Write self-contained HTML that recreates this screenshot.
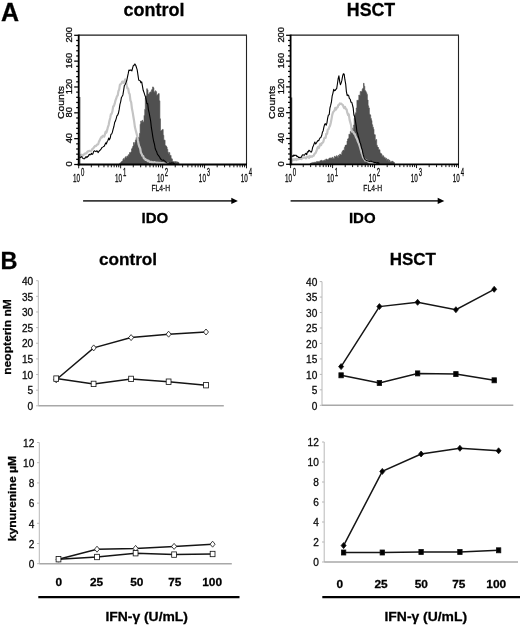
<!DOCTYPE html>
<html><head><meta charset="utf-8"><title>Figure</title>
<style>html,body{margin:0;padding:0;background:#fff;width:520px;height:627px;overflow:hidden}svg{display:block;will-change:transform;filter:blur(0.3px)}text{font-family:"Liberation Sans",sans-serif;stroke:#000;stroke-width:0.28px}</style>
</head><body>
<svg width="520" height="627" viewBox="0 0 520 627">
<rect width="520" height="627" fill="#fff"/>
<text x="1" y="21.3" font-family="'Liberation Sans', sans-serif" font-weight="bold" font-size="25">A</text>
<text x="123.6" y="15.6" font-family="'Liberation Sans', sans-serif" font-weight="bold" font-size="18">control</text>
<text x="346.8" y="15.6" font-family="'Liberation Sans', sans-serif" font-weight="bold" font-size="17.8">HSCT</text>
<polygon points="119.6,164.5 119.6,163.3 120.3,163.3 120.3,162.9 120.9,162.9 120.9,162.0 121.6,162.0 121.6,161.6 122.2,161.6 122.2,161.0 122.9,161.0 122.9,159.3 123.6,159.3 123.6,158.4 124.2,158.4 124.2,159.4 124.9,159.4 124.9,157.5 125.5,157.5 125.5,156.7 126.2,156.7 126.2,158.0 126.9,158.0 126.9,156.0 127.5,156.0 127.5,156.4 128.2,156.4 128.2,154.8 128.8,154.8 128.8,154.6 129.5,154.6 129.5,152.6 130.2,152.6 130.2,153.0 130.8,153.0 130.8,151.9 131.5,151.9 131.5,148.9 132.1,148.9 132.1,147.8 132.8,147.8 132.8,146.1 133.5,146.1 133.5,142.6 134.1,142.6 134.1,144.2 134.8,144.2 134.8,142.3 135.4,142.3 135.4,139.9 136.1,139.9 136.1,137.5 136.8,137.5 136.8,140.0 137.4,140.0 137.4,137.3 138.1,137.3 138.1,137.5 138.7,137.5 138.7,137.4 139.4,137.4 139.4,133.5 140.1,133.5 140.1,124.3 140.7,124.3 140.7,121.1 141.4,121.1 141.4,122.2 142.0,122.2 142.0,120.3 142.7,120.3 142.7,122.3 143.4,122.3 143.4,121.8 144.0,121.8 144.0,115.4 144.7,115.4 144.7,109.4 145.3,109.4 145.3,97.9 146.0,97.9 146.0,96.1 146.7,96.1 146.7,88.7 147.3,88.7 147.3,89.9 148.0,89.9 148.0,94.1 148.6,94.1 148.6,94.2 149.3,94.2 149.3,92.8 150.0,92.8 150.0,91.9 150.6,91.9 150.6,92.3 151.3,92.3 151.3,90.3 151.9,90.3 151.9,89.2 152.6,89.2 152.6,86.9 153.3,86.9 153.3,87.8 153.9,87.8 153.9,91.7 154.6,91.7 154.6,92.5 155.2,92.5 155.2,90.8 155.9,90.8 155.9,91.7 156.6,91.7 156.6,95.2 157.2,95.2 157.2,95.0 157.9,95.0 157.9,94.1 158.5,94.1 158.5,93.6 159.2,93.6 159.2,100.8 159.9,100.8 159.9,118.8 160.5,118.8 160.5,130.7 161.2,130.7 161.2,130.6 161.8,130.6 161.8,129.9 162.5,129.9 162.5,129.4 163.2,129.4 163.2,135.3 163.8,135.3 163.8,140.0 164.5,140.0 164.5,140.2 165.1,140.2 165.1,145.5 165.8,145.5 165.8,146.0 166.5,146.0 166.5,147.0 167.1,147.0 167.1,149.3 167.8,149.3 167.8,152.2 168.4,152.2 168.4,153.8 169.1,153.8 169.1,152.6 169.8,152.6 169.8,155.5 170.4,155.5 170.4,155.4 171.1,155.4 171.1,158.4 171.7,158.4 171.7,158.9 172.4,158.9 172.4,161.3 173.1,161.3 173.1,162.1 173.7,162.1 173.7,161.5 174.4,161.5 174.4,162.5 175.0,162.5 175.0,161.7 175.7,161.7 175.7,161.6 176.4,161.6 176.4,162.5 177.0,162.5 177.0,161.9 177.7,161.9 177.7,162.2 178.3,162.2 178.3,162.6 179.0,162.6 179.0,163.0 179.0,164.5" fill="#505050" stroke="#505050" stroke-width="0.6"/>
<polyline points="79.4,157.3 80.2,157.0 80.9,155.0 81.7,154.7 82.4,155.8 83.2,155.2 83.9,154.7 84.7,153.5 85.4,153.7 86.2,153.3 86.9,152.7 87.7,151.3 88.4,151.4 89.2,150.8 89.9,151.0 90.7,151.1 91.4,150.6 92.2,149.2 92.9,148.6 93.7,147.8 94.4,146.7 95.2,145.9 95.9,146.2 96.7,145.1 97.4,144.3 98.2,144.3 98.9,141.7 99.7,140.4 100.4,138.7 101.2,137.2 101.9,137.4 102.7,135.8 103.4,136.1 104.2,136.7 104.9,134.4 105.7,131.6 106.4,132.6 107.2,129.9 107.9,127.1 108.7,124.8 109.4,121.0 110.2,118.0 110.9,114.2 111.7,113.8 112.4,111.4 113.2,106.5 113.9,106.0 114.7,103.7 115.4,100.7 116.2,98.7 116.9,96.3 117.7,95.5 118.4,91.3 119.2,89.4 119.9,84.9 120.7,84.1 121.4,83.6 122.2,81.6 122.9,81.7 123.7,82.9 124.4,82.3 125.2,79.4 125.9,80.9 126.7,85.3 127.4,88.4 128.2,88.6 128.9,92.9 129.7,94.3 130.4,100.3 131.2,102.3 131.9,108.3 132.7,112.4 133.4,116.7 134.2,121.7 134.9,127.1 135.7,130.3 136.4,132.9 137.2,136.1 137.9,140.4 138.7,144.7 139.4,146.8 140.2,148.5 140.9,152.7 141.7,154.0 142.4,155.8 143.2,156.0 143.9,158.5 144.7,158.6 145.4,159.8 146.2,159.7 146.9,160.0 147.7,161.2 148.4,160.6 149.2,161.5 149.9,162.2 150.7,161.8 151.4,161.9 152.2,162.6 152.9,162.3 153.7,162.7 154.4,162.1 155.2,162.5 155.9,162.5 156.7,163.0 157.4,162.6 158.2,163.4 158.9,162.7 159.7,163.3 160.4,162.8 161.2,163.0 161.9,163.5 162.7,163.1 163.4,163.2 164.2,163.5 164.9,163.4 165.7,163.2 166.4,163.9 167.2,163.4 167.9,163.4 168.7,163.6 169.4,163.8" fill="none" stroke="#c4c4c4" stroke-width="2.2" stroke-linejoin="round"/>
<polyline points="79.4,156.9 80.2,157.7 80.9,157.1 81.7,156.6 82.4,157.8 83.2,158.5 83.9,158.8 84.7,158.7 85.4,157.2 86.2,156.7 86.9,157.6 87.7,156.3 88.4,156.3 89.2,154.3 89.9,154.7 90.7,154.8 91.4,153.3 92.2,154.4 92.9,153.9 93.7,151.4 94.4,150.8 95.2,151.3 95.9,151.6 96.7,150.8 97.4,151.3 98.2,152.6 98.9,151.3 99.7,150.5 100.4,149.8 101.2,148.8 101.9,147.6 102.7,147.1 103.4,146.6 104.2,146.2 104.9,144.7 105.7,142.9 106.4,143.8 107.2,141.5 107.9,140.5 108.7,138.1 109.4,139.8 110.2,138.1 110.9,134.5 111.7,133.9 112.4,132.2 113.2,128.8 113.9,126.5 114.7,122.3 115.4,121.1 116.2,118.6 116.9,115.8 117.7,115.0 118.4,113.3 119.2,109.4 119.9,104.7 120.7,101.6 121.4,97.6 122.2,96.2 122.9,94.9 123.7,89.9 124.4,85.4 125.2,84.5 125.9,82.9 126.7,80.8 127.4,77.3 128.2,73.7 128.9,70.1 129.7,70.4 130.4,70.0 131.2,70.1 131.9,70.9 132.7,67.6 133.4,65.4 134.2,65.3 134.9,63.9 135.7,65.3 136.4,67.3 137.2,69.8 137.9,74.7 138.7,80.0 139.4,80.5 140.2,80.7 140.9,82.7 141.7,81.8 142.4,85.8 143.2,90.3 143.9,92.2 144.7,94.7 145.4,96.6 146.2,99.9 146.9,103.7 147.7,103.6 148.4,109.6 149.2,113.2 149.9,116.8 150.7,121.4 151.4,127.7 152.2,132.7 152.9,137.3 153.7,141.5 154.4,143.9 155.2,148.5 155.9,150.2 156.7,151.8 157.4,154.1 158.2,155.2 158.9,156.1 159.7,157.2 160.4,158.7 161.2,159.5 161.9,159.9 162.7,160.2 163.4,160.0 164.2,160.7 164.9,161.1 165.7,162.0 166.4,162.7 167.2,163.0 167.9,163.2 168.7,163.2 169.4,162.9 170.2,163.4 170.9,163.3 171.7,162.9 172.4,163.0 173.2,163.0 173.9,163.6 174.7,163.3" fill="none" stroke="#000" stroke-width="1.1" stroke-linejoin="round"/>
<line x1="79.8" y1="97" x2="79.8" y2="164.5" stroke="#111" stroke-width="0.9"/>
<line x1="78.7" y1="35.15" x2="247.0" y2="35.15" stroke="#1a1a1a" stroke-width="1.3"/>
<line x1="246.5" y1="35.3" x2="246.5" y2="164.5" stroke="#222" stroke-width="1.1"/>
<line x1="78.7" y1="34.599999999999994" x2="78.7" y2="165.5" stroke="#000" stroke-width="1.8"/>
<line x1="77.7" y1="164.5" x2="247.0" y2="164.5" stroke="#000" stroke-width="1.8"/>
<line x1="74.2" y1="164.50" x2="78.7" y2="164.50" stroke="#000" stroke-width="1.25"/>
<line x1="76.2" y1="159.33" x2="78.7" y2="159.33" stroke="#000" stroke-width="1.25"/>
<line x1="76.2" y1="154.16" x2="78.7" y2="154.16" stroke="#000" stroke-width="1.25"/>
<line x1="76.2" y1="149.00" x2="78.7" y2="149.00" stroke="#000" stroke-width="1.25"/>
<line x1="76.2" y1="143.83" x2="78.7" y2="143.83" stroke="#000" stroke-width="1.25"/>
<line x1="74.2" y1="138.66" x2="78.7" y2="138.66" stroke="#000" stroke-width="1.25"/>
<line x1="76.2" y1="133.49" x2="78.7" y2="133.49" stroke="#000" stroke-width="1.25"/>
<line x1="76.2" y1="128.32" x2="78.7" y2="128.32" stroke="#000" stroke-width="1.25"/>
<line x1="76.2" y1="123.16" x2="78.7" y2="123.16" stroke="#000" stroke-width="1.25"/>
<line x1="76.2" y1="117.99" x2="78.7" y2="117.99" stroke="#000" stroke-width="1.25"/>
<line x1="74.2" y1="112.82" x2="78.7" y2="112.82" stroke="#000" stroke-width="1.25"/>
<line x1="76.2" y1="107.65" x2="78.7" y2="107.65" stroke="#000" stroke-width="1.25"/>
<line x1="76.2" y1="102.48" x2="78.7" y2="102.48" stroke="#000" stroke-width="1.25"/>
<line x1="76.2" y1="97.32" x2="78.7" y2="97.32" stroke="#000" stroke-width="1.25"/>
<line x1="76.2" y1="92.15" x2="78.7" y2="92.15" stroke="#000" stroke-width="1.25"/>
<line x1="74.2" y1="86.98" x2="78.7" y2="86.98" stroke="#000" stroke-width="1.25"/>
<line x1="76.2" y1="81.81" x2="78.7" y2="81.81" stroke="#000" stroke-width="1.25"/>
<line x1="76.2" y1="76.64" x2="78.7" y2="76.64" stroke="#000" stroke-width="1.25"/>
<line x1="76.2" y1="71.48" x2="78.7" y2="71.48" stroke="#000" stroke-width="1.25"/>
<line x1="76.2" y1="66.31" x2="78.7" y2="66.31" stroke="#000" stroke-width="1.25"/>
<line x1="74.2" y1="61.14" x2="78.7" y2="61.14" stroke="#000" stroke-width="1.25"/>
<line x1="76.2" y1="55.97" x2="78.7" y2="55.97" stroke="#000" stroke-width="1.25"/>
<line x1="76.2" y1="50.80" x2="78.7" y2="50.80" stroke="#000" stroke-width="1.25"/>
<line x1="76.2" y1="45.64" x2="78.7" y2="45.64" stroke="#000" stroke-width="1.25"/>
<line x1="76.2" y1="40.47" x2="78.7" y2="40.47" stroke="#000" stroke-width="1.25"/>
<line x1="74.2" y1="35.30" x2="78.7" y2="35.30" stroke="#000" stroke-width="1.25"/>
<line x1="78.70" y1="164.5" x2="78.70" y2="168.3" stroke="#000" stroke-width="0.9"/>
<line x1="91.33" y1="164.5" x2="91.33" y2="167.3" stroke="#000" stroke-width="0.9"/>
<line x1="98.72" y1="164.5" x2="98.72" y2="167.3" stroke="#000" stroke-width="0.9"/>
<line x1="103.96" y1="164.5" x2="103.96" y2="167.3" stroke="#000" stroke-width="0.9"/>
<line x1="108.02" y1="164.5" x2="108.02" y2="167.3" stroke="#000" stroke-width="0.9"/>
<line x1="111.34" y1="164.5" x2="111.34" y2="167.3" stroke="#000" stroke-width="0.9"/>
<line x1="114.15" y1="164.5" x2="114.15" y2="167.3" stroke="#000" stroke-width="0.9"/>
<line x1="116.58" y1="164.5" x2="116.58" y2="167.3" stroke="#000" stroke-width="0.9"/>
<line x1="118.73" y1="164.5" x2="118.73" y2="167.3" stroke="#000" stroke-width="0.9"/>
<line x1="120.65" y1="164.5" x2="120.65" y2="168.3" stroke="#000" stroke-width="0.9"/>
<line x1="133.28" y1="164.5" x2="133.28" y2="167.3" stroke="#000" stroke-width="0.9"/>
<line x1="140.67" y1="164.5" x2="140.67" y2="167.3" stroke="#000" stroke-width="0.9"/>
<line x1="145.91" y1="164.5" x2="145.91" y2="167.3" stroke="#000" stroke-width="0.9"/>
<line x1="149.97" y1="164.5" x2="149.97" y2="167.3" stroke="#000" stroke-width="0.9"/>
<line x1="153.29" y1="164.5" x2="153.29" y2="167.3" stroke="#000" stroke-width="0.9"/>
<line x1="156.10" y1="164.5" x2="156.10" y2="167.3" stroke="#000" stroke-width="0.9"/>
<line x1="158.53" y1="164.5" x2="158.53" y2="167.3" stroke="#000" stroke-width="0.9"/>
<line x1="160.68" y1="164.5" x2="160.68" y2="167.3" stroke="#000" stroke-width="0.9"/>
<line x1="162.60" y1="164.5" x2="162.60" y2="168.3" stroke="#000" stroke-width="0.9"/>
<line x1="175.23" y1="164.5" x2="175.23" y2="167.3" stroke="#000" stroke-width="0.9"/>
<line x1="182.62" y1="164.5" x2="182.62" y2="167.3" stroke="#000" stroke-width="0.9"/>
<line x1="187.86" y1="164.5" x2="187.86" y2="167.3" stroke="#000" stroke-width="0.9"/>
<line x1="191.92" y1="164.5" x2="191.92" y2="167.3" stroke="#000" stroke-width="0.9"/>
<line x1="195.24" y1="164.5" x2="195.24" y2="167.3" stroke="#000" stroke-width="0.9"/>
<line x1="198.05" y1="164.5" x2="198.05" y2="167.3" stroke="#000" stroke-width="0.9"/>
<line x1="200.48" y1="164.5" x2="200.48" y2="167.3" stroke="#000" stroke-width="0.9"/>
<line x1="202.63" y1="164.5" x2="202.63" y2="167.3" stroke="#000" stroke-width="0.9"/>
<line x1="204.55" y1="164.5" x2="204.55" y2="168.3" stroke="#000" stroke-width="0.9"/>
<line x1="217.18" y1="164.5" x2="217.18" y2="167.3" stroke="#000" stroke-width="0.9"/>
<line x1="224.57" y1="164.5" x2="224.57" y2="167.3" stroke="#000" stroke-width="0.9"/>
<line x1="229.81" y1="164.5" x2="229.81" y2="167.3" stroke="#000" stroke-width="0.9"/>
<line x1="233.87" y1="164.5" x2="233.87" y2="167.3" stroke="#000" stroke-width="0.9"/>
<line x1="237.19" y1="164.5" x2="237.19" y2="167.3" stroke="#000" stroke-width="0.9"/>
<line x1="240.00" y1="164.5" x2="240.00" y2="167.3" stroke="#000" stroke-width="0.9"/>
<line x1="242.43" y1="164.5" x2="242.43" y2="167.3" stroke="#000" stroke-width="0.9"/>
<line x1="244.58" y1="164.5" x2="244.58" y2="167.3" stroke="#000" stroke-width="0.9"/>
<line x1="246.50" y1="164.5" x2="246.50" y2="168.3" stroke="#000" stroke-width="0.9"/>
<text transform="translate(68.9,164.00) rotate(-90)" font-family="'Liberation Sans', sans-serif" font-size="8.3" text-anchor="middle" dominant-baseline="central" fill="#111" textLength="5.2" lengthAdjust="spacingAndGlyphs">0</text>
<text transform="translate(68.9,138.16) rotate(-90)" font-family="'Liberation Sans', sans-serif" font-size="8.3" text-anchor="middle" dominant-baseline="central" fill="#111" textLength="10.4" lengthAdjust="spacingAndGlyphs">40</text>
<text transform="translate(68.9,112.32) rotate(-90)" font-family="'Liberation Sans', sans-serif" font-size="8.3" text-anchor="middle" dominant-baseline="central" fill="#111" textLength="10.4" lengthAdjust="spacingAndGlyphs">80</text>
<text transform="translate(68.9,86.48) rotate(-90)" font-family="'Liberation Sans', sans-serif" font-size="8.3" text-anchor="middle" dominant-baseline="central" fill="#111" textLength="15.6" lengthAdjust="spacingAndGlyphs">120</text>
<text transform="translate(68.9,60.64) rotate(-90)" font-family="'Liberation Sans', sans-serif" font-size="8.3" text-anchor="middle" dominant-baseline="central" fill="#111" textLength="15.6" lengthAdjust="spacingAndGlyphs">160</text>
<text transform="translate(68.9,34.80) rotate(-90)" font-family="'Liberation Sans', sans-serif" font-size="8.3" text-anchor="middle" dominant-baseline="central" fill="#111" textLength="15.6" lengthAdjust="spacingAndGlyphs">200</text>
<text transform="translate(63.5,102.5) rotate(-90)" font-family="'Liberation Sans', sans-serif" font-size="9.3" text-anchor="middle" fill="#111" textLength="33" lengthAdjust="spacingAndGlyphs">Counts</text>
<g transform="translate(73.00,181.6) scale(0.6,1)"><text x="0" y="0" font-family="'Liberation Sans', sans-serif" font-size="10.6" fill="#111">10</text><text x="13.3" y="-6.0" font-family="'Liberation Sans', sans-serif" font-size="10" fill="#111">0</text></g>
<g transform="translate(114.95,181.6) scale(0.6,1)"><text x="0" y="0" font-family="'Liberation Sans', sans-serif" font-size="10.6" fill="#111">10</text><text x="13.3" y="-6.0" font-family="'Liberation Sans', sans-serif" font-size="10" fill="#111">1</text></g>
<g transform="translate(156.90,181.6) scale(0.6,1)"><text x="0" y="0" font-family="'Liberation Sans', sans-serif" font-size="10.6" fill="#111">10</text><text x="13.3" y="-6.0" font-family="'Liberation Sans', sans-serif" font-size="10" fill="#111">2</text></g>
<g transform="translate(198.85,181.6) scale(0.6,1)"><text x="0" y="0" font-family="'Liberation Sans', sans-serif" font-size="10.6" fill="#111">10</text><text x="13.3" y="-6.0" font-family="'Liberation Sans', sans-serif" font-size="10" fill="#111">3</text></g>
<g transform="translate(240.80,181.6) scale(0.6,1)"><text x="0" y="0" font-family="'Liberation Sans', sans-serif" font-size="10.6" fill="#111">10</text><text x="13.3" y="-6.0" font-family="'Liberation Sans', sans-serif" font-size="10" fill="#111">4</text></g>
<g transform="translate(151.40,191.2) scale(0.69,1)"><text x="0" y="0" font-family="'Liberation Sans', sans-serif" font-size="9.8" fill="#111">FL4-H</text></g>
<line x1="83.1" y1="200.9" x2="232.9" y2="200.9" stroke="#3a3a3a" stroke-width="1.9"/>
<polygon points="231.3,197.7 237.9,200.9 231.3,204.1" fill="#000"/>
<text x="141.6" y="223.2" font-family="'Liberation Sans', sans-serif" font-weight="bold" font-size="15">IDO</text>
<polygon points="310.0,164.3 310.0,163.5 310.7,163.5 310.7,163.2 311.3,163.2 311.3,162.9 312.0,162.9 312.0,163.4 312.6,163.4 312.6,162.4 313.3,162.4 313.3,162.8 314.0,162.8 314.0,163.1 314.6,163.1 314.6,162.0 315.3,162.0 315.3,162.4 315.9,162.4 315.9,162.3 316.6,162.3 316.6,161.4 317.3,161.4 317.3,161.7 317.9,161.7 317.9,162.0 318.6,162.0 318.6,161.5 319.2,161.5 319.2,161.7 319.9,161.7 319.9,160.7 320.6,160.7 320.6,160.7 321.2,160.7 321.2,160.3 321.9,160.3 321.9,160.8 322.5,160.8 322.5,161.3 323.2,161.3 323.2,160.6 323.9,160.6 323.9,160.7 324.5,160.7 324.5,159.9 325.2,159.9 325.2,160.4 325.8,160.4 325.8,159.0 326.5,159.0 326.5,159.2 327.2,159.2 327.2,159.8 327.8,159.8 327.8,159.7 328.5,159.7 328.5,158.9 329.1,158.9 329.1,158.1 329.8,158.1 329.8,158.2 330.5,158.2 330.5,157.9 331.1,157.9 331.1,157.9 331.8,157.9 331.8,158.8 332.4,158.8 332.4,157.3 333.1,157.3 333.1,158.6 333.8,158.6 333.8,158.4 334.4,158.4 334.4,156.3 335.1,156.3 335.1,156.9 335.7,156.9 335.7,157.0 336.4,157.0 336.4,155.7 337.1,155.7 337.1,156.4 337.7,156.4 337.7,157.4 338.4,157.4 338.4,155.3 339.0,155.3 339.0,156.0 339.7,156.0 339.7,154.1 340.4,154.1 340.4,154.7 341.0,154.7 341.0,155.0 341.7,155.0 341.7,152.4 342.3,152.4 342.3,151.0 343.0,151.0 343.0,150.1 343.7,150.1 343.7,150.5 344.3,150.5 344.3,147.5 345.0,147.5 345.0,145.6 345.6,145.6 345.6,145.1 346.3,145.1 346.3,144.9 347.0,144.9 347.0,141.0 347.6,141.0 347.6,139.0 348.3,139.0 348.3,138.3 348.9,138.3 348.9,134.2 349.6,134.2 349.6,134.5 350.3,134.5 350.3,131.3 350.9,131.3 350.9,132.3 351.6,132.3 351.6,133.0 352.2,133.0 352.2,128.1 352.9,128.1 352.9,129.4 353.6,129.4 353.6,125.0 354.2,125.0 354.2,118.3 354.9,118.3 354.9,114.2 355.5,114.2 355.5,112.7 356.2,112.7 356.2,108.0 356.9,108.0 356.9,100.2 357.5,100.2 357.5,100.8 358.2,100.8 358.2,100.0 358.8,100.0 358.8,95.1 359.5,95.1 359.5,95.4 360.2,95.4 360.2,91.5 360.8,91.5 360.8,91.6 361.5,91.6 361.5,91.6 362.1,91.6 362.1,89.3 362.8,89.3 362.8,88.2 363.5,88.2 363.5,83.3 364.1,83.3 364.1,86.2 364.8,86.2 364.8,90.5 365.4,90.5 365.4,91.3 366.1,91.3 366.1,92.7 366.8,92.7 366.8,94.4 367.4,94.4 367.4,100.0 368.1,100.0 368.1,105.8 368.7,105.8 368.7,107.9 369.4,107.9 369.4,114.2 370.1,114.2 370.1,115.1 370.7,115.1 370.7,118.6 371.4,118.6 371.4,120.6 372.0,120.6 372.0,124.7 372.7,124.7 372.7,127.2 373.4,127.2 373.4,129.2 374.0,129.2 374.0,134.6 374.7,134.6 374.7,134.8 375.3,134.8 375.3,140.3 376.0,140.3 376.0,139.6 376.7,139.6 376.7,145.2 377.3,145.2 377.3,147.1 378.0,147.1 378.0,147.5 378.6,147.5 378.6,149.8 379.3,149.8 379.3,149.8 380.0,149.8 380.0,152.9 380.6,152.9 380.6,153.6 381.3,153.6 381.3,153.9 381.9,153.9 381.9,156.5 382.6,156.5 382.6,155.6 383.3,155.6 383.3,156.2 383.9,156.2 383.9,158.0 384.6,158.0 384.6,157.4 385.2,157.4 385.2,158.7 385.9,158.7 385.9,158.3 386.6,158.3 386.6,160.2 387.2,160.2 387.2,159.4 387.9,159.4 387.9,159.3 388.5,159.3 388.5,161.2 389.2,161.2 389.2,160.1 389.9,160.1 389.9,161.7 390.5,161.7 390.5,162.0 391.2,162.0 391.2,161.7 391.8,161.7 391.8,161.1 392.5,161.1 392.5,161.5 393.2,161.5 393.2,162.1 393.8,162.1 393.8,162.6 394.5,162.6 394.5,163.2 394.5,164.3" fill="#505050" stroke="#505050" stroke-width="0.6"/>
<polyline points="291.8,159.6 292.6,160.5 293.3,159.3 294.1,160.0 294.8,159.1 295.6,159.2 296.3,160.2 297.1,158.9 297.8,159.5 298.6,159.1 299.3,159.0 300.1,159.0 300.8,158.4 301.6,159.1 302.3,157.8 303.1,157.9 303.8,157.4 304.6,157.6 305.3,157.6 306.1,158.3 306.8,157.2 307.6,156.6 308.3,156.7 309.1,157.8 309.8,156.0 310.6,156.9 311.3,156.3 312.1,156.7 312.8,156.0 313.6,155.8 314.3,154.2 315.1,153.4 315.8,152.7 316.6,150.7 317.3,148.3 318.1,146.8 318.8,148.1 319.6,145.9 320.3,144.0 321.1,145.2 321.8,143.2 322.6,142.7 323.3,141.9 324.1,138.7 324.8,137.6 325.6,137.9 326.3,133.8 327.1,133.7 327.8,129.5 328.6,129.3 329.3,127.0 330.1,125.6 330.8,122.7 331.6,118.6 332.3,114.6 333.1,112.2 333.8,111.4 334.6,110.3 335.3,107.8 336.1,109.5 336.8,107.5 337.6,107.4 338.3,105.2 339.1,104.7 339.8,103.4 340.6,103.9 341.3,103.6 342.1,104.6 342.8,104.9 343.6,107.0 344.3,108.2 345.1,107.0 345.8,109.0 346.6,109.5 347.3,112.7 348.1,115.2 348.8,114.3 349.6,119.9 350.3,122.4 351.1,125.3 351.8,131.5 352.6,131.5 353.3,132.0 354.1,133.8 354.8,134.1 355.6,136.2 356.3,137.8 357.1,139.2 357.8,141.4 358.6,143.0 359.3,145.0 360.1,147.5 360.8,150.0 361.6,153.0 362.3,154.6 363.1,157.4 363.8,158.4 364.6,159.5 365.3,160.6 366.1,160.2 366.8,160.7 367.6,161.1 368.3,161.7 369.1,162.2 369.8,162.6 370.6,162.4 371.3,163.1 372.1,162.4 372.8,163.1 373.6,162.8 374.3,163.3 375.1,162.9 375.8,163.6" fill="none" stroke="#c4c4c4" stroke-width="2.2" stroke-linejoin="round"/>
<polyline points="291.7,156.6 292.4,155.8 293.2,156.3 293.9,154.9 294.7,155.7 295.4,155.3 296.2,155.2 296.9,156.6 297.7,156.3 298.4,157.4 299.2,157.3 299.9,157.7 300.7,157.3 301.4,157.1 302.2,155.2 302.9,154.8 303.7,155.0 304.4,155.2 305.2,154.0 305.9,153.3 306.7,154.6 307.4,151.8 308.2,152.0 308.9,150.2 309.7,150.8 310.4,151.7 311.2,152.1 311.9,151.0 312.7,147.2 313.4,145.8 314.2,143.6 314.9,142.1 315.7,144.0 316.4,143.0 317.2,141.6 317.9,140.6 318.7,140.7 319.4,139.0 320.2,137.8 320.9,137.4 321.7,135.5 322.4,132.3 323.2,130.7 323.9,127.1 324.7,124.2 325.4,123.7 326.2,125.2 326.9,123.1 327.7,117.9 328.4,115.0 329.2,114.8 329.9,108.2 330.7,105.2 331.4,102.2 332.2,95.8 332.9,93.3 333.7,89.4 334.4,90.6 335.2,90.4 335.9,89.3 336.7,88.5 337.4,84.0 338.2,78.4 338.9,75.9 339.7,81.7 340.4,84.7 341.2,82.9 341.9,80.2 342.7,75.7 343.4,73.7 344.2,74.3 344.9,79.7 345.7,84.1 346.4,91.6 347.2,95.7 347.9,94.9 348.7,95.6 349.4,98.6 350.2,99.1 350.9,102.2 351.7,102.2 352.4,104.6 353.2,108.0 353.9,115.0 354.7,116.8 355.4,120.9 356.2,125.6 356.9,131.6 357.7,133.7 358.4,136.8 359.2,139.1 359.9,142.2 360.7,144.1 361.4,147.6 362.2,149.6 362.9,153.5 363.7,156.3 364.4,158.5 365.2,159.8 365.9,160.0 366.7,160.7 367.4,160.8 368.2,161.0 368.9,161.3 369.7,161.5 370.4,161.3 371.2,161.1 371.9,161.7 372.7,161.7 373.4,162.0 374.2,162.6 374.9,162.4 375.7,162.4 376.4,162.7 377.2,162.9 377.9,162.5 378.7,163.3 379.4,163.4" fill="none" stroke="#000" stroke-width="1.1" stroke-linejoin="round"/>
<line x1="291.70000000000005" y1="97.5" x2="291.70000000000005" y2="164.3" stroke="#111" stroke-width="0.9"/>
<line x1="290.6" y1="35.15" x2="459.0" y2="35.15" stroke="#1a1a1a" stroke-width="1.3"/>
<line x1="458.5" y1="35.3" x2="458.5" y2="164.3" stroke="#222" stroke-width="1.1"/>
<line x1="290.6" y1="34.599999999999994" x2="290.6" y2="165.3" stroke="#000" stroke-width="1.8"/>
<line x1="289.6" y1="164.3" x2="459.0" y2="164.3" stroke="#000" stroke-width="1.8"/>
<line x1="286.1" y1="164.30" x2="290.6" y2="164.30" stroke="#000" stroke-width="1.25"/>
<line x1="288.1" y1="159.14" x2="290.6" y2="159.14" stroke="#000" stroke-width="1.25"/>
<line x1="288.1" y1="153.98" x2="290.6" y2="153.98" stroke="#000" stroke-width="1.25"/>
<line x1="288.1" y1="148.82" x2="290.6" y2="148.82" stroke="#000" stroke-width="1.25"/>
<line x1="288.1" y1="143.66" x2="290.6" y2="143.66" stroke="#000" stroke-width="1.25"/>
<line x1="286.1" y1="138.50" x2="290.6" y2="138.50" stroke="#000" stroke-width="1.25"/>
<line x1="288.1" y1="133.34" x2="290.6" y2="133.34" stroke="#000" stroke-width="1.25"/>
<line x1="288.1" y1="128.18" x2="290.6" y2="128.18" stroke="#000" stroke-width="1.25"/>
<line x1="288.1" y1="123.02" x2="290.6" y2="123.02" stroke="#000" stroke-width="1.25"/>
<line x1="288.1" y1="117.86" x2="290.6" y2="117.86" stroke="#000" stroke-width="1.25"/>
<line x1="286.1" y1="112.70" x2="290.6" y2="112.70" stroke="#000" stroke-width="1.25"/>
<line x1="288.1" y1="107.54" x2="290.6" y2="107.54" stroke="#000" stroke-width="1.25"/>
<line x1="288.1" y1="102.38" x2="290.6" y2="102.38" stroke="#000" stroke-width="1.25"/>
<line x1="288.1" y1="97.22" x2="290.6" y2="97.22" stroke="#000" stroke-width="1.25"/>
<line x1="288.1" y1="92.06" x2="290.6" y2="92.06" stroke="#000" stroke-width="1.25"/>
<line x1="286.1" y1="86.90" x2="290.6" y2="86.90" stroke="#000" stroke-width="1.25"/>
<line x1="288.1" y1="81.74" x2="290.6" y2="81.74" stroke="#000" stroke-width="1.25"/>
<line x1="288.1" y1="76.58" x2="290.6" y2="76.58" stroke="#000" stroke-width="1.25"/>
<line x1="288.1" y1="71.42" x2="290.6" y2="71.42" stroke="#000" stroke-width="1.25"/>
<line x1="288.1" y1="66.26" x2="290.6" y2="66.26" stroke="#000" stroke-width="1.25"/>
<line x1="286.1" y1="61.10" x2="290.6" y2="61.10" stroke="#000" stroke-width="1.25"/>
<line x1="288.1" y1="55.94" x2="290.6" y2="55.94" stroke="#000" stroke-width="1.25"/>
<line x1="288.1" y1="50.78" x2="290.6" y2="50.78" stroke="#000" stroke-width="1.25"/>
<line x1="288.1" y1="45.62" x2="290.6" y2="45.62" stroke="#000" stroke-width="1.25"/>
<line x1="288.1" y1="40.46" x2="290.6" y2="40.46" stroke="#000" stroke-width="1.25"/>
<line x1="286.1" y1="35.30" x2="290.6" y2="35.30" stroke="#000" stroke-width="1.25"/>
<line x1="290.60" y1="164.3" x2="290.60" y2="168.10000000000002" stroke="#000" stroke-width="0.9"/>
<line x1="303.24" y1="164.3" x2="303.24" y2="167.10000000000002" stroke="#000" stroke-width="0.9"/>
<line x1="310.63" y1="164.3" x2="310.63" y2="167.10000000000002" stroke="#000" stroke-width="0.9"/>
<line x1="315.87" y1="164.3" x2="315.87" y2="167.10000000000002" stroke="#000" stroke-width="0.9"/>
<line x1="319.94" y1="164.3" x2="319.94" y2="167.10000000000002" stroke="#000" stroke-width="0.9"/>
<line x1="323.26" y1="164.3" x2="323.26" y2="167.10000000000002" stroke="#000" stroke-width="0.9"/>
<line x1="326.07" y1="164.3" x2="326.07" y2="167.10000000000002" stroke="#000" stroke-width="0.9"/>
<line x1="328.51" y1="164.3" x2="328.51" y2="167.10000000000002" stroke="#000" stroke-width="0.9"/>
<line x1="330.65" y1="164.3" x2="330.65" y2="167.10000000000002" stroke="#000" stroke-width="0.9"/>
<line x1="332.58" y1="164.3" x2="332.58" y2="168.10000000000002" stroke="#000" stroke-width="0.9"/>
<line x1="345.21" y1="164.3" x2="345.21" y2="167.10000000000002" stroke="#000" stroke-width="0.9"/>
<line x1="352.60" y1="164.3" x2="352.60" y2="167.10000000000002" stroke="#000" stroke-width="0.9"/>
<line x1="357.85" y1="164.3" x2="357.85" y2="167.10000000000002" stroke="#000" stroke-width="0.9"/>
<line x1="361.91" y1="164.3" x2="361.91" y2="167.10000000000002" stroke="#000" stroke-width="0.9"/>
<line x1="365.24" y1="164.3" x2="365.24" y2="167.10000000000002" stroke="#000" stroke-width="0.9"/>
<line x1="368.05" y1="164.3" x2="368.05" y2="167.10000000000002" stroke="#000" stroke-width="0.9"/>
<line x1="370.48" y1="164.3" x2="370.48" y2="167.10000000000002" stroke="#000" stroke-width="0.9"/>
<line x1="372.63" y1="164.3" x2="372.63" y2="167.10000000000002" stroke="#000" stroke-width="0.9"/>
<line x1="374.55" y1="164.3" x2="374.55" y2="168.10000000000002" stroke="#000" stroke-width="0.9"/>
<line x1="387.19" y1="164.3" x2="387.19" y2="167.10000000000002" stroke="#000" stroke-width="0.9"/>
<line x1="394.58" y1="164.3" x2="394.58" y2="167.10000000000002" stroke="#000" stroke-width="0.9"/>
<line x1="399.82" y1="164.3" x2="399.82" y2="167.10000000000002" stroke="#000" stroke-width="0.9"/>
<line x1="403.89" y1="164.3" x2="403.89" y2="167.10000000000002" stroke="#000" stroke-width="0.9"/>
<line x1="407.21" y1="164.3" x2="407.21" y2="167.10000000000002" stroke="#000" stroke-width="0.9"/>
<line x1="410.02" y1="164.3" x2="410.02" y2="167.10000000000002" stroke="#000" stroke-width="0.9"/>
<line x1="412.46" y1="164.3" x2="412.46" y2="167.10000000000002" stroke="#000" stroke-width="0.9"/>
<line x1="414.60" y1="164.3" x2="414.60" y2="167.10000000000002" stroke="#000" stroke-width="0.9"/>
<line x1="416.52" y1="164.3" x2="416.52" y2="168.10000000000002" stroke="#000" stroke-width="0.9"/>
<line x1="429.16" y1="164.3" x2="429.16" y2="167.10000000000002" stroke="#000" stroke-width="0.9"/>
<line x1="436.55" y1="164.3" x2="436.55" y2="167.10000000000002" stroke="#000" stroke-width="0.9"/>
<line x1="441.80" y1="164.3" x2="441.80" y2="167.10000000000002" stroke="#000" stroke-width="0.9"/>
<line x1="445.86" y1="164.3" x2="445.86" y2="167.10000000000002" stroke="#000" stroke-width="0.9"/>
<line x1="449.19" y1="164.3" x2="449.19" y2="167.10000000000002" stroke="#000" stroke-width="0.9"/>
<line x1="452.00" y1="164.3" x2="452.00" y2="167.10000000000002" stroke="#000" stroke-width="0.9"/>
<line x1="454.43" y1="164.3" x2="454.43" y2="167.10000000000002" stroke="#000" stroke-width="0.9"/>
<line x1="456.58" y1="164.3" x2="456.58" y2="167.10000000000002" stroke="#000" stroke-width="0.9"/>
<line x1="458.50" y1="164.3" x2="458.50" y2="168.10000000000002" stroke="#000" stroke-width="0.9"/>
<text transform="translate(280.8,163.80) rotate(-90)" font-family="'Liberation Sans', sans-serif" font-size="8.3" text-anchor="middle" dominant-baseline="central" fill="#111" textLength="5.2" lengthAdjust="spacingAndGlyphs">0</text>
<text transform="translate(280.8,138.00) rotate(-90)" font-family="'Liberation Sans', sans-serif" font-size="8.3" text-anchor="middle" dominant-baseline="central" fill="#111" textLength="10.4" lengthAdjust="spacingAndGlyphs">40</text>
<text transform="translate(280.8,112.20) rotate(-90)" font-family="'Liberation Sans', sans-serif" font-size="8.3" text-anchor="middle" dominant-baseline="central" fill="#111" textLength="10.4" lengthAdjust="spacingAndGlyphs">80</text>
<text transform="translate(280.8,86.40) rotate(-90)" font-family="'Liberation Sans', sans-serif" font-size="8.3" text-anchor="middle" dominant-baseline="central" fill="#111" textLength="15.6" lengthAdjust="spacingAndGlyphs">120</text>
<text transform="translate(280.8,60.60) rotate(-90)" font-family="'Liberation Sans', sans-serif" font-size="8.3" text-anchor="middle" dominant-baseline="central" fill="#111" textLength="15.6" lengthAdjust="spacingAndGlyphs">160</text>
<text transform="translate(280.8,34.80) rotate(-90)" font-family="'Liberation Sans', sans-serif" font-size="8.3" text-anchor="middle" dominant-baseline="central" fill="#111" textLength="15.6" lengthAdjust="spacingAndGlyphs">200</text>
<text transform="translate(275.4,102.4) rotate(-90)" font-family="'Liberation Sans', sans-serif" font-size="9.3" text-anchor="middle" fill="#111" textLength="33" lengthAdjust="spacingAndGlyphs">Counts</text>
<g transform="translate(284.90,181.6) scale(0.6,1)"><text x="0" y="0" font-family="'Liberation Sans', sans-serif" font-size="10.6" fill="#111">10</text><text x="13.3" y="-6.0" font-family="'Liberation Sans', sans-serif" font-size="10" fill="#111">0</text></g>
<g transform="translate(326.88,181.6) scale(0.6,1)"><text x="0" y="0" font-family="'Liberation Sans', sans-serif" font-size="10.6" fill="#111">10</text><text x="13.3" y="-6.0" font-family="'Liberation Sans', sans-serif" font-size="10" fill="#111">1</text></g>
<g transform="translate(368.85,181.6) scale(0.6,1)"><text x="0" y="0" font-family="'Liberation Sans', sans-serif" font-size="10.6" fill="#111">10</text><text x="13.3" y="-6.0" font-family="'Liberation Sans', sans-serif" font-size="10" fill="#111">2</text></g>
<g transform="translate(410.82,181.6) scale(0.6,1)"><text x="0" y="0" font-family="'Liberation Sans', sans-serif" font-size="10.6" fill="#111">10</text><text x="13.3" y="-6.0" font-family="'Liberation Sans', sans-serif" font-size="10" fill="#111">3</text></g>
<g transform="translate(452.80,181.6) scale(0.6,1)"><text x="0" y="0" font-family="'Liberation Sans', sans-serif" font-size="10.6" fill="#111">10</text><text x="13.3" y="-6.0" font-family="'Liberation Sans', sans-serif" font-size="10" fill="#111">4</text></g>
<g transform="translate(363.35,191.2) scale(0.69,1)"><text x="0" y="0" font-family="'Liberation Sans', sans-serif" font-size="9.8" fill="#111">FL4-H</text></g>
<line x1="290.6" y1="200.9" x2="439.3" y2="200.9" stroke="#3a3a3a" stroke-width="1.9"/>
<polygon points="437.7,197.7 444.3,200.9 437.7,204.1" fill="#000"/>
<text x="348.9" y="223.2" font-family="'Liberation Sans', sans-serif" font-weight="bold" font-size="15">IDO</text>
<text x="0.6" y="269.4" font-family="'Liberation Sans', sans-serif" font-weight="bold" font-size="23.5">B</text>
<text x="98.9" y="264.5" font-family="'Liberation Sans', sans-serif" font-weight="bold" font-size="17.2">control</text>
<text x="389.7" y="264.6" font-family="'Liberation Sans', sans-serif" font-weight="bold" font-size="17">HSCT</text>
<line x1="38.3" y1="280.7" x2="38.3" y2="405.8" stroke="#b8b8b8" stroke-width="1"/>
<line x1="38.3" y1="405.8" x2="223.8" y2="405.8" stroke="#a8a8a8" stroke-width="1.4"/>
<line x1="36.099999999999994" y1="405.80" x2="38.3" y2="405.80" stroke="#b8b8b8" stroke-width="1"/>
<text x="33.2" y="410.00" font-family="'Liberation Sans', sans-serif" font-size="10.1" text-anchor="end" fill="#111">0</text>
<line x1="36.099999999999994" y1="390.16" x2="38.3" y2="390.16" stroke="#b8b8b8" stroke-width="1"/>
<text x="33.2" y="394.36" font-family="'Liberation Sans', sans-serif" font-size="10.1" text-anchor="end" fill="#111">5</text>
<line x1="36.099999999999994" y1="374.52" x2="38.3" y2="374.52" stroke="#b8b8b8" stroke-width="1"/>
<text x="33.2" y="378.72" font-family="'Liberation Sans', sans-serif" font-size="10.1" text-anchor="end" fill="#111">10</text>
<line x1="36.099999999999994" y1="358.89" x2="38.3" y2="358.89" stroke="#b8b8b8" stroke-width="1"/>
<text x="33.2" y="363.09" font-family="'Liberation Sans', sans-serif" font-size="10.1" text-anchor="end" fill="#111">15</text>
<line x1="36.099999999999994" y1="343.25" x2="38.3" y2="343.25" stroke="#b8b8b8" stroke-width="1"/>
<text x="33.2" y="347.45" font-family="'Liberation Sans', sans-serif" font-size="10.1" text-anchor="end" fill="#111">20</text>
<line x1="36.099999999999994" y1="327.61" x2="38.3" y2="327.61" stroke="#b8b8b8" stroke-width="1"/>
<text x="33.2" y="331.81" font-family="'Liberation Sans', sans-serif" font-size="10.1" text-anchor="end" fill="#111">25</text>
<line x1="36.099999999999994" y1="311.98" x2="38.3" y2="311.98" stroke="#b8b8b8" stroke-width="1"/>
<text x="33.2" y="316.18" font-family="'Liberation Sans', sans-serif" font-size="10.1" text-anchor="end" fill="#111">30</text>
<line x1="36.099999999999994" y1="296.34" x2="38.3" y2="296.34" stroke="#b8b8b8" stroke-width="1"/>
<text x="33.2" y="300.54" font-family="'Liberation Sans', sans-serif" font-size="10.1" text-anchor="end" fill="#111">35</text>
<line x1="36.099999999999994" y1="280.70" x2="38.3" y2="280.70" stroke="#b8b8b8" stroke-width="1"/>
<text x="33.2" y="284.90" font-family="'Liberation Sans', sans-serif" font-size="10.1" text-anchor="end" fill="#111">40</text>
<polyline points="56.2,379.8 93.7,347.9 131.1,337.6 168.6,334.2 206.0,332.0" fill="none" stroke="#151515" stroke-width="1.5"/>
<polygon points="56.2,376.8 58.7,379.8 56.2,382.8 53.7,379.8" fill="#fff" stroke="#111" stroke-width="0.8"/>
<polygon points="93.7,344.9 96.2,347.9 93.7,350.9 91.2,347.9" fill="#fff" stroke="#111" stroke-width="0.8"/>
<polygon points="131.1,334.6 133.6,337.6 131.1,340.6 128.6,337.6" fill="#fff" stroke="#111" stroke-width="0.8"/>
<polygon points="168.6,331.2 171.1,334.2 168.6,337.2 166.1,334.2" fill="#fff" stroke="#111" stroke-width="0.8"/>
<polygon points="206.0,329.0 208.5,332.0 206.0,335.0 203.5,332.0" fill="#fff" stroke="#111" stroke-width="0.8"/>
<polyline points="56.2,378.6 93.7,383.9 131.1,378.9 168.6,381.7 206.0,385.2" fill="none" stroke="#151515" stroke-width="1.5"/>
<rect x="53.8" y="375.9" width="4.8" height="5.4" fill="#fff" stroke="#111" stroke-width="0.8"/>
<rect x="91.2" y="381.2" width="4.8" height="5.4" fill="#fff" stroke="#111" stroke-width="0.8"/>
<rect x="128.7" y="376.2" width="4.8" height="5.4" fill="#fff" stroke="#111" stroke-width="0.8"/>
<rect x="166.2" y="379.0" width="4.8" height="5.4" fill="#fff" stroke="#111" stroke-width="0.8"/>
<rect x="203.6" y="382.5" width="4.8" height="5.4" fill="#fff" stroke="#111" stroke-width="0.8"/>
<line x1="322.0" y1="281.6" x2="322.0" y2="405.3" stroke="#b8b8b8" stroke-width="1"/>
<line x1="322.0" y1="405.3" x2="513.3" y2="405.3" stroke="#a8a8a8" stroke-width="1.4"/>
<line x1="319.8" y1="405.30" x2="322.0" y2="405.30" stroke="#b8b8b8" stroke-width="1"/>
<text x="317.3" y="409.50" font-family="'Liberation Sans', sans-serif" font-size="10.1" text-anchor="end" fill="#111">0</text>
<line x1="319.8" y1="389.84" x2="322.0" y2="389.84" stroke="#b8b8b8" stroke-width="1"/>
<text x="317.3" y="394.04" font-family="'Liberation Sans', sans-serif" font-size="10.1" text-anchor="end" fill="#111">5</text>
<line x1="319.8" y1="374.38" x2="322.0" y2="374.38" stroke="#b8b8b8" stroke-width="1"/>
<text x="317.3" y="378.57" font-family="'Liberation Sans', sans-serif" font-size="10.1" text-anchor="end" fill="#111">10</text>
<line x1="319.8" y1="358.91" x2="322.0" y2="358.91" stroke="#b8b8b8" stroke-width="1"/>
<text x="317.3" y="363.11" font-family="'Liberation Sans', sans-serif" font-size="10.1" text-anchor="end" fill="#111">15</text>
<line x1="319.8" y1="343.45" x2="322.0" y2="343.45" stroke="#b8b8b8" stroke-width="1"/>
<text x="317.3" y="347.65" font-family="'Liberation Sans', sans-serif" font-size="10.1" text-anchor="end" fill="#111">20</text>
<line x1="319.8" y1="327.99" x2="322.0" y2="327.99" stroke="#b8b8b8" stroke-width="1"/>
<text x="317.3" y="332.19" font-family="'Liberation Sans', sans-serif" font-size="10.1" text-anchor="end" fill="#111">25</text>
<line x1="319.8" y1="312.53" x2="322.0" y2="312.53" stroke="#b8b8b8" stroke-width="1"/>
<text x="317.3" y="316.73" font-family="'Liberation Sans', sans-serif" font-size="10.1" text-anchor="end" fill="#111">30</text>
<line x1="319.8" y1="297.06" x2="322.0" y2="297.06" stroke="#b8b8b8" stroke-width="1"/>
<text x="317.3" y="301.26" font-family="'Liberation Sans', sans-serif" font-size="10.1" text-anchor="end" fill="#111">35</text>
<line x1="319.8" y1="281.60" x2="322.0" y2="281.60" stroke="#b8b8b8" stroke-width="1"/>
<text x="317.3" y="285.80" font-family="'Liberation Sans', sans-serif" font-size="10.1" text-anchor="end" fill="#111">40</text>
<polyline points="341.1,366.6 379.4,306.6 417.6,302.3 455.9,309.7 494.2,289.3" fill="none" stroke="#151515" stroke-width="1.5"/>
<polygon points="341.1,363.6 343.6,366.6 341.1,369.6 338.6,366.6" fill="#000" stroke="#111" stroke-width="0.8"/>
<polygon points="379.4,303.6 381.9,306.6 379.4,309.6 376.9,306.6" fill="#000" stroke="#111" stroke-width="0.8"/>
<polygon points="417.6,299.3 420.1,302.3 417.6,305.3 415.1,302.3" fill="#000" stroke="#111" stroke-width="0.8"/>
<polygon points="455.9,306.7 458.4,309.7 455.9,312.7 453.4,309.7" fill="#000" stroke="#111" stroke-width="0.8"/>
<polygon points="494.2,286.3 496.7,289.3 494.2,292.3 491.7,289.3" fill="#000" stroke="#111" stroke-width="0.8"/>
<polyline points="341.1,375.3 379.4,383.0 417.6,373.4 455.9,374.1 494.2,380.3" fill="none" stroke="#151515" stroke-width="1.5"/>
<rect x="338.9" y="372.8" width="4.4" height="5.0" fill="#000" stroke="#111" stroke-width="0.8"/>
<rect x="377.2" y="380.5" width="4.4" height="5.0" fill="#000" stroke="#111" stroke-width="0.8"/>
<rect x="415.4" y="370.9" width="4.4" height="5.0" fill="#000" stroke="#111" stroke-width="0.8"/>
<rect x="453.7" y="371.6" width="4.4" height="5.0" fill="#000" stroke="#111" stroke-width="0.8"/>
<rect x="492.0" y="377.8" width="4.4" height="5.0" fill="#000" stroke="#111" stroke-width="0.8"/>
<line x1="39.3" y1="442.5" x2="39.3" y2="563.7" stroke="#b8b8b8" stroke-width="1"/>
<line x1="39.3" y1="563.7" x2="231.8" y2="563.7" stroke="#a8a8a8" stroke-width="1.4"/>
<line x1="37.099999999999994" y1="563.70" x2="39.3" y2="563.70" stroke="#b8b8b8" stroke-width="1"/>
<text x="34.3" y="567.90" font-family="'Liberation Sans', sans-serif" font-size="10.1" text-anchor="end" fill="#111">0</text>
<line x1="37.099999999999994" y1="543.50" x2="39.3" y2="543.50" stroke="#b8b8b8" stroke-width="1"/>
<text x="34.3" y="547.70" font-family="'Liberation Sans', sans-serif" font-size="10.1" text-anchor="end" fill="#111">2</text>
<line x1="37.099999999999994" y1="523.30" x2="39.3" y2="523.30" stroke="#b8b8b8" stroke-width="1"/>
<text x="34.3" y="527.50" font-family="'Liberation Sans', sans-serif" font-size="10.1" text-anchor="end" fill="#111">4</text>
<line x1="37.099999999999994" y1="503.10" x2="39.3" y2="503.10" stroke="#b8b8b8" stroke-width="1"/>
<text x="34.3" y="507.30" font-family="'Liberation Sans', sans-serif" font-size="10.1" text-anchor="end" fill="#111">6</text>
<line x1="37.099999999999994" y1="482.90" x2="39.3" y2="482.90" stroke="#b8b8b8" stroke-width="1"/>
<text x="34.3" y="487.10" font-family="'Liberation Sans', sans-serif" font-size="10.1" text-anchor="end" fill="#111">8</text>
<line x1="37.099999999999994" y1="462.70" x2="39.3" y2="462.70" stroke="#b8b8b8" stroke-width="1"/>
<text x="34.3" y="466.90" font-family="'Liberation Sans', sans-serif" font-size="10.1" text-anchor="end" fill="#111">10</text>
<line x1="37.099999999999994" y1="442.50" x2="39.3" y2="442.50" stroke="#b8b8b8" stroke-width="1"/>
<text x="34.3" y="446.70" font-family="'Liberation Sans', sans-serif" font-size="10.1" text-anchor="end" fill="#111">12</text>
<polyline points="58.5,559.2 97.0,549.2 135.6,548.4 174.1,546.4 212.6,544.2" fill="none" stroke="#151515" stroke-width="1.5"/>
<polygon points="58.5,556.2 61.0,559.2 58.5,562.2 56.0,559.2" fill="#fff" stroke="#111" stroke-width="0.8"/>
<polygon points="97.0,546.2 99.5,549.2 97.0,552.2 94.5,549.2" fill="#fff" stroke="#111" stroke-width="0.8"/>
<polygon points="135.6,545.4 138.1,548.4 135.6,551.4 133.1,548.4" fill="#fff" stroke="#111" stroke-width="0.8"/>
<polygon points="174.1,543.4 176.6,546.4 174.1,549.4 171.6,546.4" fill="#fff" stroke="#111" stroke-width="0.8"/>
<polygon points="212.6,541.2 215.1,544.2 212.6,547.2 210.1,544.2" fill="#fff" stroke="#111" stroke-width="0.8"/>
<polyline points="58.5,559.2 97.0,557.0 135.6,553.2 174.1,554.6 212.6,554.0" fill="none" stroke="#151515" stroke-width="1.5"/>
<rect x="56.1" y="556.5" width="4.8" height="5.4" fill="#fff" stroke="#111" stroke-width="0.8"/>
<rect x="94.6" y="554.3" width="4.8" height="5.4" fill="#fff" stroke="#111" stroke-width="0.8"/>
<rect x="133.2" y="550.5" width="4.8" height="5.4" fill="#fff" stroke="#111" stroke-width="0.8"/>
<rect x="171.7" y="551.9" width="4.8" height="5.4" fill="#fff" stroke="#111" stroke-width="0.8"/>
<rect x="210.2" y="551.3" width="4.8" height="5.4" fill="#fff" stroke="#111" stroke-width="0.8"/>
<line x1="324.2" y1="442.0" x2="324.2" y2="562.0" stroke="#b8b8b8" stroke-width="1"/>
<line x1="324.2" y1="562.0" x2="518.0" y2="562.0" stroke="#a8a8a8" stroke-width="1.4"/>
<line x1="322.0" y1="562.00" x2="324.2" y2="562.00" stroke="#b8b8b8" stroke-width="1"/>
<text x="318.8" y="566.20" font-family="'Liberation Sans', sans-serif" font-size="10.1" text-anchor="end" fill="#111">0</text>
<line x1="322.0" y1="542.00" x2="324.2" y2="542.00" stroke="#b8b8b8" stroke-width="1"/>
<text x="318.8" y="546.20" font-family="'Liberation Sans', sans-serif" font-size="10.1" text-anchor="end" fill="#111">2</text>
<line x1="322.0" y1="522.00" x2="324.2" y2="522.00" stroke="#b8b8b8" stroke-width="1"/>
<text x="318.8" y="526.20" font-family="'Liberation Sans', sans-serif" font-size="10.1" text-anchor="end" fill="#111">4</text>
<line x1="322.0" y1="502.00" x2="324.2" y2="502.00" stroke="#b8b8b8" stroke-width="1"/>
<text x="318.8" y="506.20" font-family="'Liberation Sans', sans-serif" font-size="10.1" text-anchor="end" fill="#111">6</text>
<line x1="322.0" y1="482.00" x2="324.2" y2="482.00" stroke="#b8b8b8" stroke-width="1"/>
<text x="318.8" y="486.20" font-family="'Liberation Sans', sans-serif" font-size="10.1" text-anchor="end" fill="#111">8</text>
<line x1="322.0" y1="462.00" x2="324.2" y2="462.00" stroke="#b8b8b8" stroke-width="1"/>
<text x="318.8" y="466.20" font-family="'Liberation Sans', sans-serif" font-size="10.1" text-anchor="end" fill="#111">10</text>
<line x1="322.0" y1="442.00" x2="324.2" y2="442.00" stroke="#b8b8b8" stroke-width="1"/>
<text x="318.8" y="446.20" font-family="'Liberation Sans', sans-serif" font-size="10.1" text-anchor="end" fill="#111">12</text>
<polyline points="343.6,545.6 382.3,471.4 421.1,454.0 459.9,448.3 498.6,450.8" fill="none" stroke="#151515" stroke-width="1.5"/>
<polygon points="343.6,542.6 346.1,545.6 343.6,548.6 341.1,545.6" fill="#000" stroke="#111" stroke-width="0.8"/>
<polygon points="382.3,468.4 384.8,471.4 382.3,474.4 379.8,471.4" fill="#000" stroke="#111" stroke-width="0.8"/>
<polygon points="421.1,451.0 423.6,454.0 421.1,457.0 418.6,454.0" fill="#000" stroke="#111" stroke-width="0.8"/>
<polygon points="459.9,445.3 462.4,448.3 459.9,451.3 457.4,448.3" fill="#000" stroke="#111" stroke-width="0.8"/>
<polygon points="498.6,447.8 501.1,450.8 498.6,453.8 496.1,450.8" fill="#000" stroke="#111" stroke-width="0.8"/>
<polyline points="343.6,552.5 382.3,552.5 421.1,552.0 459.9,552.0 498.6,550.3" fill="none" stroke="#151515" stroke-width="1.5"/>
<rect x="341.4" y="550.0" width="4.4" height="5.0" fill="#000" stroke="#111" stroke-width="0.8"/>
<rect x="380.1" y="550.0" width="4.4" height="5.0" fill="#000" stroke="#111" stroke-width="0.8"/>
<rect x="418.9" y="549.5" width="4.4" height="5.0" fill="#000" stroke="#111" stroke-width="0.8"/>
<rect x="457.7" y="549.5" width="4.4" height="5.0" fill="#000" stroke="#111" stroke-width="0.8"/>
<rect x="496.4" y="547.8" width="4.4" height="5.0" fill="#000" stroke="#111" stroke-width="0.8"/>
<text transform="translate(10.9,337) rotate(-90)" font-family="'Liberation Sans', sans-serif" font-weight="bold" font-size="11.6" text-anchor="middle" fill="#000" textLength="75.5" lengthAdjust="spacingAndGlyphs">neopterin nM</text>
<text transform="translate(15.6,498.5) rotate(-90)" font-family="'Liberation Sans', sans-serif" font-weight="bold" font-size="11.6" text-anchor="middle" fill="#000" textLength="85.5" lengthAdjust="spacingAndGlyphs">kynurenine µM</text>
<text x="58.8" y="585.9" font-family="'Liberation Sans', sans-serif" font-weight="bold" font-size="11.8" text-anchor="middle" textLength="6.6" lengthAdjust="spacingAndGlyphs">0</text>
<text x="96.5" y="585.9" font-family="'Liberation Sans', sans-serif" font-weight="bold" font-size="11.8" text-anchor="middle" textLength="13.2" lengthAdjust="spacingAndGlyphs">25</text>
<text x="136.8" y="585.9" font-family="'Liberation Sans', sans-serif" font-weight="bold" font-size="11.8" text-anchor="middle" textLength="13.2" lengthAdjust="spacingAndGlyphs">50</text>
<text x="174.8" y="585.9" font-family="'Liberation Sans', sans-serif" font-weight="bold" font-size="11.8" text-anchor="middle" textLength="13.2" lengthAdjust="spacingAndGlyphs">75</text>
<text x="212.1" y="585.9" font-family="'Liberation Sans', sans-serif" font-weight="bold" font-size="11.8" text-anchor="middle" textLength="19.9" lengthAdjust="spacingAndGlyphs">100</text>
<line x1="38.3" y1="597.2" x2="239.5" y2="597.2" stroke="#000" stroke-width="2.3"/>
<text x="105.4" y="620.8" font-family="'Liberation Sans', sans-serif" font-weight="bold" font-size="13.5" textLength="82.6" lengthAdjust="spacingAndGlyphs">IFN-γ (U/mL)</text>
<text x="339.7" y="588.2" font-family="'Liberation Sans', sans-serif" font-weight="bold" font-size="11.8" text-anchor="middle" textLength="6.6" lengthAdjust="spacingAndGlyphs">0</text>
<text x="381.0" y="588.2" font-family="'Liberation Sans', sans-serif" font-weight="bold" font-size="11.8" text-anchor="middle" textLength="13.2" lengthAdjust="spacingAndGlyphs">25</text>
<text x="421.3" y="588.2" font-family="'Liberation Sans', sans-serif" font-weight="bold" font-size="11.8" text-anchor="middle" textLength="13.2" lengthAdjust="spacingAndGlyphs">50</text>
<text x="458.8" y="588.2" font-family="'Liberation Sans', sans-serif" font-weight="bold" font-size="11.8" text-anchor="middle" textLength="13.2" lengthAdjust="spacingAndGlyphs">75</text>
<text x="496.3" y="588.2" font-family="'Liberation Sans', sans-serif" font-weight="bold" font-size="11.8" text-anchor="middle" textLength="19.9" lengthAdjust="spacingAndGlyphs">100</text>
<line x1="322.3" y1="597.2" x2="520" y2="597.2" stroke="#000" stroke-width="2.3"/>
<text x="384.5" y="620.8" font-family="'Liberation Sans', sans-serif" font-weight="bold" font-size="13.5" textLength="82.6" lengthAdjust="spacingAndGlyphs">IFN-γ (U/mL)</text>
</svg>
</body></html>
